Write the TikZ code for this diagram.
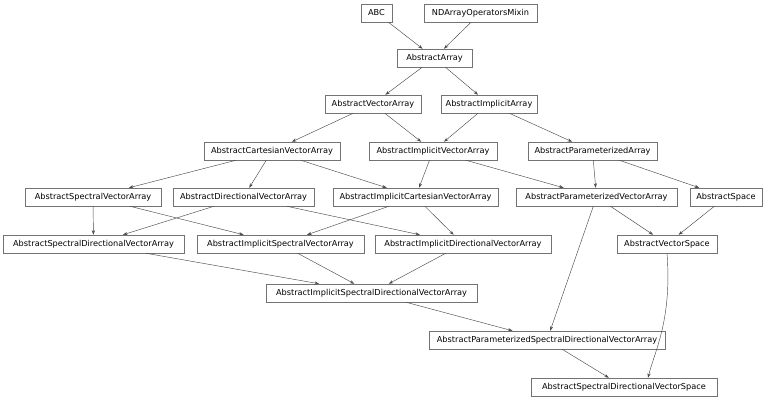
\documentclass[tikz,border=0pt]{standalone}
\usepackage{fontspec}
\setmainfont{DejaVu Sans}
\usetikzlibrary{arrows.meta}
\begin{document}
\begin{tikzpicture}[x=1pt,y=-1pt,
 cls/.style={draw=black!55,line width=0.5pt,fill=white,minimum height=18pt,inner sep=0pt,font=\fontsize{8.2}{9}\selectfont},
 ed/.style={draw=black!70,line width=0.45pt,-{Stealth[length=4.5pt,width=3.2pt]}}]
\useasboundingbox (0,0) rectangle (768,400);
\newcommand\cn[5]{\node[cls,minimum width=#4pt] (#1) at (#2,#3) {#5};}
\cn{abc}{376.5}{13}{31}{ABC}
\cn{nd}{480.5}{13}{113}{NDArrayOperatorsMixin}
\cn{aa}{434.5}{58}{75}{AbstractArray}
\cn{ava}{373}{104}{96}{AbstractVectorArray}
\cn{aia}{489}{104}{96}{AbstractImplicitArray}
\cn{acva}{272}{151}{136}{AbstractCartesianVectorArray}
\cn{aiva}{433}{151}{128}{AbstractImplicitVectorArray}
\cn{apa}{592.5}{151}{129}{AbstractParameterizedArray}
\cn{asva}{93}{197}{136}{AbstractSpectralVectorArray}
\cn{adva}{243.5}{197}{141}{AbstractDirectionalVectorArray}
\cn{aicva}{415.5}{197}{165}{AbstractImplicitCartesianVectorArray}
\cn{apva}{596.5}{197}{161}{AbstractParameterizedVectorArray}
\cn{asp}{726}{197}{72}{AbstractSpace}
\cn{asdva}{93.5}{244}{181}{AbstractSpectralDirectionalVectorArray}
\cn{aisva}{280.5}{244}{167}{AbstractImplicitSpectralVectorArray}
\cn{aidva}{463}{244}{176}{AbstractImplicitDirectionalVectorArray}
\cn{avs}{667}{244}{100}{AbstractVectorSpace}
\cn{aisdva}{371.5}{293}{211}{AbstractImplicitSpectralDirectionalVectorArray}
\cn{apsdva}{547}{340}{236}{AbstractParameterizedSpectralDirectionalVectorArray}
\cn{asdvs}{624}{387}{186}{AbstractSpectralDirectionalVectorSpace}
\foreach \a/\b in {abc/aa,nd/aa,aa/ava,aa/aia,ava/acva,ava/aiva,aia/aiva,aia/apa,
 acva/asva,acva/adva,acva/aicva,aiva/aicva,aiva/apva,apa/apva,apa/asp,
 asva/asdva,asva/aisva,adva/asdva,adva/aidva,aicva/aisva,aicva/aidva,
 apva/avs,apva/apsdva,asp/avs,asdva/aisdva,aisva/aisdva,aidva/aisdva,
 aisdva/apsdva,apsdva/asdvs}
 \draw[ed] (\a) -- (\b);
\draw[ed] (avs.south) .. controls (672,320) and (655,350) .. (asdvs.north -| 648,0);
\end{tikzpicture}
\end{document}
